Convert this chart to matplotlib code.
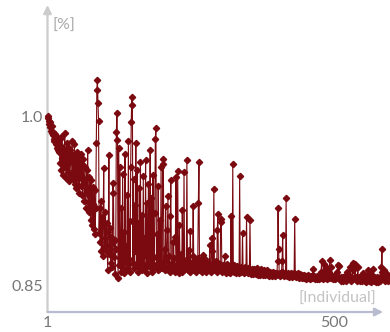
import matplotlib
matplotlib.use("Agg")
from matplotlib import pyplot as plt
import numpy as np

# 数据: 每个个体的值
values = [
    1.000, 0.998, 0.996, 0.993, 0.995, 0.990, 0.987, 0.991, 0.985, 0.983, 0.986, 0.980, 0.978, 0.984, 0.975, 0.979, 0.972, 0.981, 0.970, 0.976,
    0.968, 0.980, 0.958, 0.973, 0.952, 0.982, 0.963, 0.948, 0.971, 0.957, 0.985, 0.955, 0.969, 0.945, 0.976, 0.958, 0.950, 0.972, 0.942, 0.966,
    0.970, 0.948, 0.962, 0.978, 0.944, 0.965, 0.952, 0.975, 0.940, 0.961, 0.936, 0.968, 0.950, 0.944, 0.964, 0.932, 0.959, 0.947, 0.966, 0.938,
    0.957, 0.930, 0.962, 0.944, 0.925, 0.955, 0.938, 0.918, 0.952, 0.932, 0.970, 0.924, 0.915, 0.946, 0.928, 0.908, 0.943, 0.920, 0.903, 0.937,
    0.922, 0.900, 0.934, 0.895, 0.918, 0.976, 1.023, 1.032, 1.012, 0.996, 0.896, 0.918, 0.888, 0.925, 0.880, 0.910, 0.876, 0.906, 0.954, 0.884,
    0.892, 0.915, 0.880, 0.905, 0.885, 0.863, 0.897, 0.965, 0.878, 0.901, 0.870, 0.893, 0.887, 0.866, 0.941, 0.932, 0.875, 0.890, 0.860, 0.882,
    0.986, 1.003, 0.979, 0.856, 0.972, 0.868, 0.955, 0.874, 0.862, 0.918, 0.866, 0.949, 0.870, 0.897, 0.861, 0.966, 0.872, 0.885, 0.864, 0.930,
    0.868, 0.978, 0.873, 0.907, 0.862, 0.955, 0.995, 1.017, 1.010, 0.870, 0.944, 0.865, 0.921, 0.880, 0.976, 0.868, 0.952, 0.862, 0.905, 0.871,
    0.936, 0.866, 0.959, 0.874, 0.863, 0.912, 0.869, 0.947, 0.864, 0.892, 0.877, 0.961, 0.866, 0.923, 0.861, 0.884, 0.940, 0.868, 0.902, 0.970,
    0.865, 0.927, 0.870, 0.862, 0.948, 0.875, 0.866, 0.914, 0.980, 0.989, 0.868, 0.895, 0.863, 0.938, 0.871, 0.864, 0.908, 0.867, 0.955, 0.865,
    0.869, 0.962, 0.957, 0.866, 0.882, 0.863, 0.920, 0.871, 0.864, 0.899, 0.929, 0.867, 0.876, 0.862, 0.911, 0.943, 0.866, 0.870, 0.863, 0.888,
    0.866, 0.874, 0.862, 0.893, 0.946, 0.868, 0.864, 0.951, 0.869, 0.861, 0.903, 0.870, 0.865, 0.878, 0.862, 0.917, 0.867, 0.863, 0.950, 0.868,
    0.864, 0.872, 0.866, 0.961, 0.869, 0.863, 0.881, 0.867, 0.862, 0.898, 0.866, 0.870, 0.864, 0.876, 0.920, 0.868, 0.863, 0.871, 0.866, 0.862,
    0.869, 0.865, 0.874, 0.923, 0.959, 0.867, 0.863, 0.872, 0.866, 0.870, 0.862, 0.877, 0.865, 0.868, 0.863, 0.873, 0.866, 0.862, 0.869, 0.864,
    0.867, 0.863, 0.870, 0.886, 0.865, 0.862, 0.880, 0.892, 0.866, 0.864, 0.935, 0.868, 0.863, 0.871, 0.866, 0.862, 0.899, 0.913, 0.867, 0.864,
    0.869, 0.863, 0.909, 0.906, 0.866, 0.862, 0.868, 0.864, 0.867, 0.876, 0.863, 0.866, 0.861, 0.869, 0.864, 0.862, 0.867, 0.863, 0.865, 0.861,
    0.911, 0.866, 0.863, 0.957, 0.865, 0.862, 0.868, 0.864, 0.861, 0.866, 0.863, 0.867, 0.862, 0.865, 0.861, 0.947, 0.864, 0.862, 0.866, 0.863,
    0.896, 0.864, 0.861, 0.865, 0.862, 0.866, 0.863, 0.910, 0.864, 0.861, 0.865, 0.862, 0.864, 0.908, 0.863, 0.860, 0.864, 0.861, 0.863, 0.860,
    0.864, 0.861, 0.863, 0.860, 0.862, 0.865, 0.861, 0.859, 0.863, 0.860, 0.862, 0.859, 0.864, 0.861, 0.860, 0.862, 0.859, 0.863, 0.860, 0.861,
    0.859, 0.862, 0.860, 0.863, 0.859, 0.861, 0.860, 0.858, 0.862, 0.860, 0.859, 0.861, 0.858, 0.860, 0.862, 0.859, 0.861, 0.858, 0.860, 0.859,
    0.861, 0.871, 0.918, 0.882, 0.859, 0.861, 0.858, 0.860, 0.862, 0.871, 0.894, 0.859, 0.861, 0.858, 0.860, 0.859, 0.927, 0.860, 0.858, 0.861,
    0.859, 0.857, 0.860, 0.858, 0.861, 0.859, 0.857, 0.860, 0.858, 0.859, 0.861, 0.909, 0.858, 0.860, 0.857, 0.859, 0.861, 0.858, 0.856, 0.859,
    0.857, 0.860, 0.858, 0.856, 0.859, 0.857, 0.858, 0.856, 0.859, 0.857, 0.855, 0.858, 0.856, 0.857, 0.859, 0.856, 0.858, 0.855, 0.857, 0.856,
    0.858, 0.856, 0.857, 0.864, 0.856, 0.858, 0.855, 0.857, 0.856, 0.858, 0.855, 0.857, 0.856, 0.858, 0.855, 0.857, 0.856, 0.862, 0.871, 0.857,
    0.855, 0.857, 0.869, 0.858, 0.856, 0.864, 0.866, 0.857, 0.855, 0.857, 0.856, 0.862, 0.872, 0.858, 0.866, 0.856, 0.858, 0.855, 0.857, 0.856,
    0.858, 0.855, 0.857, 0.856, 0.858, 0.862, 0.868, 0.857, 0.867, 0.856, 0.855, 0.857, 0.854, 0.856, 0.855, 0.857, 0.854, 0.856, 0.858, 0.855,
    0.857, 0.854, 0.856, 0.862, 0.855, 0.857, 0.859, 0.866, 0.856, 0.854, 0.857, 0.855, 0.863, 0.870, 0.865, 0.856, 0.869, 0.855, 0.857, 0.854,
    0.856, 0.866, 0.855, 0.857, 0.854, 0.856, 0.855, 0.857, 0.854, 0.856, 0.861, 0.855, 0.857, 0.854, 0.856, 0.855, 0.853, 0.858, 0.863, 0.855,
    0.854, 0.856, 0.861, 0.855, 0.853, 0.856, 0.859, 0.864, 0.855, 0.857, 0.854, 0.856, 0.853, 0.855, 0.857, 0.854, 0.856, 0.853, 0.855, 0.857,
    0.854, 0.856, 0.866, 0.882, 0.862, 0.855, 0.857, 0.863, 0.856, 0.854, 0.857, 0.855, 0.860, 0.856, 0.854, 0.857, 0.855,
]
individuals = np.arange(1, len(values) + 1)
x_ticks = [1, 500]
x_tick_labels = ["1", "500"]
y_ticks = [0.85, 1.0]
y_tick_labels = ["0.85", "1.0"]

plt.rcParams['font.family'] = ['Lato', 'DejaVu Sans']

fig = plt.figure(figsize=(3.9, 3.32), dpi=100)
ax = fig.add_axes([0.1218, 0.0602, 0.878, 0.9247])

ax.plot(individuals, values, color='#7a0a10', lw=0.8, marker='D', ms=3.2,
        mec='#7a0a10', mfc='#7a0a10', clip_on=False, zorder=3)

ax.set_xlim(1, 598)
ax.set_ylim(0.8261, 1.0985)

for s in ax.spines.values():
    s.set_visible(False)

# 坐标轴箭头
ax.annotate('', xy=(0, 1), xytext=(0, 0), xycoords='axes fraction',
            arrowprops=dict(arrowstyle='-|>', color='#cccccc', lw=1.6,
                            mutation_scale=12, shrinkA=0, shrinkB=0), zorder=1)
ax.annotate('', xy=(0.98, 0), xytext=(0, 0), xycoords='axes fraction',
            arrowprops=dict(arrowstyle='-|>', color='#b9bbd0', lw=1.6,
                            mutation_scale=12, shrinkA=0, shrinkB=0), zorder=1)

ax.set_xticks(x_ticks)
ax.set_xticklabels(x_tick_labels)
ax.set_yticks(y_ticks)
ax.set_yticklabels(y_tick_labels)
ax.tick_params(length=0, labelsize=11.5, colors='#777777')
ax.tick_params(axis='x', pad=3)
ax.tick_params(axis='y', pad=3)

ax.text(0.015, 0.955, '[%]', transform=ax.transAxes, fontsize=11.5,
        color='#aaaaaa', ha='left', va='top')
ax.text(0.96, 0.02, '[Individual]', transform=ax.transAxes, fontsize=11.5,
        color='#c4c4c4', ha='right', va='bottom')

fig.savefig('out.png', dpi=100)
